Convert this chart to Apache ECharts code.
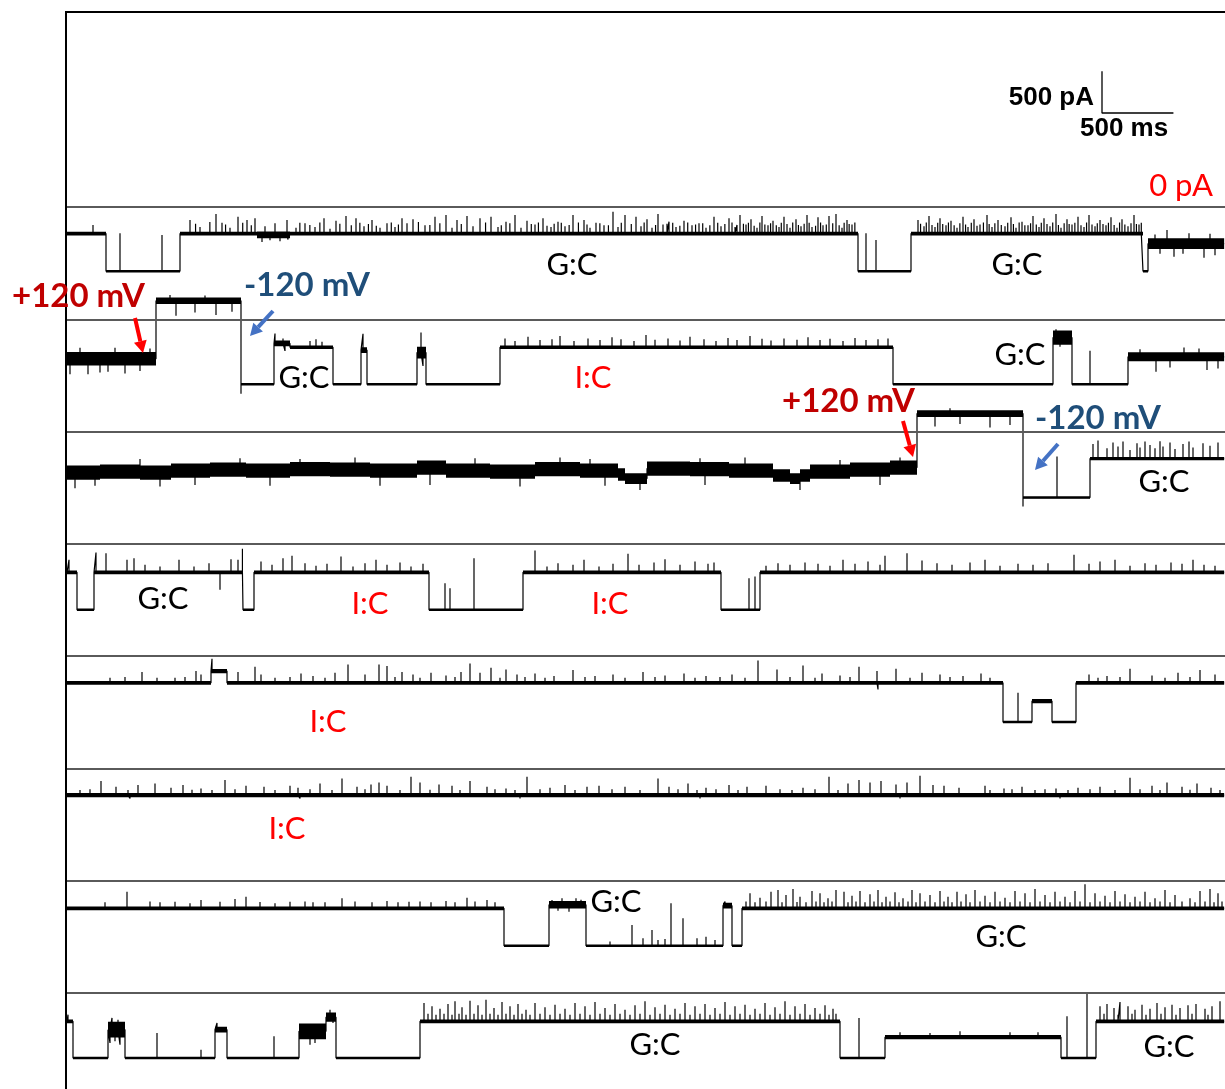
<!DOCTYPE html>
<html>
<head>
<meta charset="utf-8">
<script src="https://cdn.jsdelivr.net/npm/echarts@6/dist/echarts.min.js"></script>
<style>
html,body{margin:0;padding:0;background:#fff;}
#chart{width:1225px;height:1089px;}
</style>
</head>
<body>
<div id="chart"></div>
<script>
// Nanopore current traces, 8 consecutive rows.
// Time in ms from the start of each row, current in pA.
// Segments: [startMs, endMs, levelPA, noisePeakToPeakPA]
// Spikes:   [timeMs, peakPA]

const row1Segments = [
  [0, 273, -318, 45], [273, 791, -770, 30], [791, 1330, -318, 45], [1330, 1561, -335, 80],
  [1561, 5537, -318, 45], [5537, 5908, -770, 30], [5908, 7532, -318, 45], [7532, 7567, -770, 30],
  [7567, 8100, -440, 130]
];
const row1Spikes = [
  [182, -216], [371, -316], [665, -336],
  [861, -156], [900, -200], [931, -240], [1000, -180], [1043, -84], [1085, -188], [1110, -210], [1141, -250],
  [1197, -116], [1230, -190], [1260, -156], [1290, -220], [1316, -136],
  [1365, -420], [1386, -230], [1421, -400], [1456, -196], [1491, -410], [1540, -156], [1547, -390],
  [1603, -250], [1630, -190], [1666, -196], [1700, -215], [1736, -240], [1770, -185], [1799, -136],
  [1841, -260], [1883, -164], [1910, -200], [1953, -108], [1990, -220],
  [2023, -136], [2050, -190], [2079, -230], [2110, -205], [2135, -156], [2165, -225], [2191, -250],
  [2240, -196], [2270, -185], [2296, -240], [2320, -210], [2345, -136], [2380, -195],
  [2422, -148], [2460, -180], [2506, -220], [2540, -215], [2576, -116], [2610, -195], [2653, -96],
  [2695, -250], [2730, -156], [2760, -205], [2800, -108],
  [2842, -230], [2891, -136], [2930, -185], [2968, -116], [3017, -240], [3040, -220], [3073, -176],
  [3100, -195], [3136, -96], [3178, -250], [3220, -164], [3250, -205], [3276, -210], [3300, -185],
  [3332, -136], [3360, -225], [3388, -240], [3410, -200], [3437, -176], [3460, -190], [3486, -230],
  [3515, -215], [3542, -96], [3580, -185],
  [3619, -156], [3640, -210], [3661, -250], [3703, -188], [3730, -195], [3759, -220], [3790, -220],
  [3822, -56], [3857, -240], [3880, -190], [3906, -96], [3950, -205],
  [3983, -116], [4018, -230], [4040, -185], [4060, -148], [4095, -250], [4120, -215], [4137, -84],
  [4172, -210], [4200, -200], [4214, -176], [4240, -190],
  [4263, -240], [4290, -225], [4319, -164], [4345, -185], [4375, -220], [4400, -210], [4424, -196],
  [4450, -195], [4473, -250], [4500, -220], [4529, -116], [4555, -190], [4578, -230], [4605, -205],
  [4634, -136], [4655, -185], [4676, -240], [4690, -215], [4711, -96], [4735, -200], [4753, -210],
  [4770, -190], [4788, -148], [4810, -225], [4830, -250], [4850, -185], [4865, -108], [4885, -210],
  [4907, -220], [4925, -195], [4942, -164], [4965, -220], [4984, -240], [5000, -190], [5019, -116],
  [5040, -205], [5061, -250], [5080, -185], [5103, -148], [5120, -215], [5138, -230], [5160, -200],
  [5180, -96], [5195, -190], [5215, -240], [5240, -225], [5257, -124], [5275, -185], [5292, -220],
  [5315, -210], [5334, -108], [5360, -195], [5383, -84], [5405, -220], [5425, -250], [5440, -190],
  [5460, -156], [5475, -205], [5495, -210], [5515, -185],
  [5593, -316], [5663, -396],
  [5957, -156], [5975, -200], [5999, -230], [6015, -185], [6034, -108], [6055, -215], [6076, -240],
  [6095, -190], [6111, -136], [6130, -205], [6153, -220], [6170, -185], [6188, -164], [6210, -220],
  [6230, -250], [6250, -195], [6272, -116], [6290, -210], [6307, -240], [6330, -190], [6349, -148],
  [6370, -225], [6391, -210], [6415, -185], [6440, -96], [6455, -205], [6475, -240], [6495, -195],
  [6517, -156], [6540, -215], [6566, -230], [6585, -190], [6608, -124], [6625, -205], [6643, -250],
  [6665, -185], [6685, -176], [6705, -220], [6727, -220], [6745, -195], [6762, -108], [6785, -210],
  [6804, -240], [6820, -190], [6839, -136], [6860, -205], [6881, -230], [6900, -185], [6923, -84],
  [6940, -215], [6958, -250], [6980, -195], [7000, -148], [7015, -205], [7035, -210], [7055, -190],
  [7077, -116], [7098, -220], [7119, -240], [7137, -185], [7154, -96], [7175, -210], [7196, -230],
  [7212, -195], [7231, -156], [7252, -205], [7273, -220], [7290, -190], [7308, -124], [7330, -215],
  [7350, -250], [7368, -185], [7385, -148], [7405, -210], [7427, -230], [7448, -195], [7469, -96],
  [7486, -205], [7504, -210], [7520, -190],
  [7616, -330], [7651, -560], [7700, -276], [7749, -596], [7812, -560], [7854, -316], [7959, -610],
  [8001, -320], [8036, -580]
];

const row2Segments = [
  [0, 623, -474, 160], [623, 1218, 222, 80], [1218, 1449, -780, 30], [1449, 1561, -290, 70],
  [1561, 1862, -336, 40], [1862, 2058, -780, 30], [2058, 2100, -370, 70], [2100, 2450, -780, 30],
  [2450, 2513, -400, 140], [2513, 3031, -780, 30], [3031, 5782, -336, 40], [5782, 6902, -780, 30],
  [6902, 7035, -220, 170], [7035, 7427, -780, 30], [7427, 8100, -450, 110]
];
const row2Spikes = [
  [21, -660], [91, -342], [147, -660], [231, -640], [287, -630], [336, -342], [406, -650], [511, -620], [581, -350],
  [721, 290], [763, 42], [896, 80], [966, 285], [1043, 50], [1155, 90],
  [1218, -894],
  [1456, -170], [1512, -230], [1526, -380], [1701, -260], [1743, -240], [1785, -270],
  [2072, -175], [2478, -160], [2492, -560],
  [3066, -230], [3136, -260], [3227, -210], [3311, -250], [3395, -240], [3451, -200], [3549, -260],
  [3647, -230], [3731, -250], [3815, -215], [3878, -240], [3969, -260], [4053, -190], [4116, -245],
  [4207, -230], [4291, -255], [4361, -210], [4459, -240], [4543, -260], [4627, -225], [4690, -250],
  [4781, -200], [4865, -235], [4928, -255], [5019, -230], [5110, -245], [5187, -215], [5271, -250],
  [5341, -235], [5432, -260], [5516, -225], [5593, -250], [5677, -240], [5747, -230],
  [6923, -120], [6951, -330], [6993, -150],
  [7161, -378],
  [7511, -360], [7623, -630], [7721, -580], [7819, -338], [7924, -350], [7980, -610], [8057, -590]
];

const row3Segments = [
  [0, 231, -492, 170], [231, 511, -480, 170], [511, 728, -492, 170], [728, 1001, -468, 170],
  [1001, 1253, -456, 170], [1253, 1561, -468, 170], [1561, 1841, -450, 170], [1841, 2121, -456, 170],
  [2121, 2450, -468, 170], [2450, 2653, -432, 170], [2653, 2961, -468, 170], [2961, 3276, -480, 170],
  [3276, 3591, -450, 170], [3591, 3857, -468, 170], [3857, 3906, -516, 150], [3906, 4060, -564, 130],
  [4060, 4361, -444, 170], [4361, 4634, -450, 170], [4634, 4942, -468, 170], [4942, 5061, -528, 150],
  [5061, 5131, -564, 130], [5131, 5201, -528, 150], [5201, 5481, -480, 170], [5481, 5761, -456, 170],
  [5761, 5950, -432, 170], [5950, 6692, 216, 80], [6692, 7161, -792, 30], [7161, 8100, -324, 40]
];
const row3Spikes = [
  [56, -680], [196, -650], [511, -330], [651, -660], [896, -640], [1211, -320], [1421, -650],
  [1631, -330], [2016, -310], [2191, -650], [2541, -640], [2856, -320], [3171, -660], [3451, -310],
  [3661, -330], [3766, -650], [4011, -700], [4431, -320], [4466, -640], [4746, -310], [5131, -700],
  [5411, -340], [5691, -640], [5831, -310],
  [6076, 60], [6181, 280], [6251, 90], [6461, 50], [6601, 80],
  [6692, -900], [6930, -300],
  [7182, -150], [7217, -108], [7280, -200], [7322, -130], [7357, -180], [7392, -120], [7441, -220],
  [7490, -140], [7511, -190], [7546, -120], [7581, -160], [7616, -200], [7651, -115], [7672, -180],
  [7721, -130], [7756, -210], [7812, -150], [7854, -120], [7882, -190], [7952, -140], [8001, -170],
  [8057, -130]
];

const row4Segments = [
  [0, 70, -342, 45], [70, 189, -792, 30], [189, 1232, -342, 45], [1232, 1309, -792, 30],
  [1309, 2534, -342, 45], [2534, 3192, -792, 30], [3192, 4578, -342, 45], [4578, 4851, -792, 30],
  [4851, 8100, -342, 45]
];
const row4Spikes = [
  [14, -192], [203, -104], [273, -112], [420, -192], [469, -172], [546, -252], [651, -272], [784, -192],
  [889, -272], [994, -232], [1071, -552], [1148, -184], [1197, -192], [1228, -60],
  [1358, -212], [1435, -252], [1512, -172], [1575, -144], [1666, -232], [1743, -264], [1820, -240],
  [1918, -152], [2002, -272], [2086, -232], [2163, -192], [2240, -252], [2331, -224], [2408, -272],
  [2492, -240],
  [2646, -472], [2681, -532], [2849, -172],
  [3276, -80], [3360, -272], [3437, -232], [3542, -252], [3619, -192], [3724, -272], [3822, -240],
  [3927, -120], [4004, -252], [4109, -224], [4186, -184], [4291, -252], [4396, -212], [4487, -240],
  [4529, -224],
  [4774, -412], [4816, -392],
  [4893, -264], [4977, -232], [5061, -252], [5166, -224], [5257, -240], [5341, -264], [5432, -192],
  [5516, -240], [5607, -212], [5691, -252], [5726, -144], [5880, -112], [5985, -200], [6090, -232],
  [6195, -252], [6321, -224], [6426, -192], [6531, -264], [6657, -240], [6762, -252], [6867, -232],
  [7049, -132], [7154, -240], [7231, -212], [7336, -192], [7441, -264], [7546, -232], [7623, -252],
  [7728, -224], [7805, -240], [7882, -192], [7959, -252], [8036, -264]
];

const row5Segments = [
  [0, 1008, -320, 45], [1008, 1120, -180, 50], [1120, 6552, -320, 45], [6552, 6755, -792, 30],
  [6755, 6895, -540, 50], [6895, 7063, -792, 30], [7063, 8100, -320, 45]
];
const row5Spikes = [
  [301, -260], [406, -250], [525, -192], [630, -260], [756, -260], [826, -250], [903, -180], [938, -220],
  [1015, -32],
  [1197, -192], [1316, -128], [1358, -220], [1456, -260], [1561, -250], [1638, -208], [1722, -240],
  [1806, -260], [1876, -200], [1967, -100], [2086, -220], [2184, -100], [2240, -120], [2296, -250],
  [2345, -192], [2422, -220], [2471, -260], [2548, -200], [2653, -232], [2716, -250], [2758, -192],
  [2821, -88], [2891, -200], [2968, -140], [3031, -260], [3073, -160], [3150, -220], [3206, -250],
  [3276, -208], [3346, -260], [3409, -240], [3542, -168], [3626, -250], [3696, -240], [3822, -220],
  [3906, -260], [4032, -192], [4116, -250], [4186, -232], [4319, -208], [4396, -260], [4473, -240],
  [4571, -250], [4655, -220], [4746, -260], [4837, -52], [4970, -160], [5061, -250], [5152, -112],
  [5236, -260], [5285, -208], [5411, -232], [5481, -250], [5544, -128], [5670, -180], [5677, -400],
  [5803, -152], [5901, -260], [5985, -200], [6111, -220], [6181, -250], [6272, -240], [6398, -208],
  [6461, -260],
  [6657, -440],
  [7154, -220], [7217, -260], [7280, -240], [7371, -250], [7441, -152], [7595, -232], [7686, -260],
  [7777, -200], [7861, -250], [7931, -168], [8036, -220]
];

const row6Segments = [
  [0, 8100, -320, 50]
];
const row6Spikes = [
  [91, -260], [161, -250], [238, -152], [343, -220], [427, -260], [441, -360], [497, -200], [616, -180],
  [728, -232], [812, -200], [875, -255], [938, -240], [1015, -260], [1106, -140], [1176, -250],
  [1253, -208], [1379, -220], [1456, -260], [1561, -208], [1617, -232], [1631, -360], [1701, -250],
  [1771, -180], [1855, -260], [1925, -120], [2030, -220], [2086, -250], [2128, -192], [2184, -168],
  [2240, -208], [2331, -260], [2408, -100], [2471, -168], [2541, -255], [2604, -192], [2695, -208],
  [2751, -260], [2821, -152], [2940, -220], [2996, -250], [3073, -240], [3136, -260], [3171, -360],
  [3220, -100], [3311, -250], [3381, -232], [3486, -200], [3556, -260], [3640, -220], [3724, -208],
  [3815, -250], [3906, -220], [4011, -260], [4137, -120], [4214, -220], [4277, -250], [4347, -180],
  [4410, -260], [4431, -360], [4473, -232], [4543, -250], [4634, -200], [4697, -260], [4760, -220],
  [4893, -208], [4991, -250], [5075, -260], [5152, -232], [5236, -250], [5334, -100], [5397, -260],
  [5467, -180], [5544, -140], [5621, -168], [5698, -152], [5803, -192], [5831, -360], [5880, -168],
  [5971, -88], [6062, -200], [6139, -208], [6244, -232], [6426, -208], [6461, -260], [6559, -240],
  [6615, -250], [6685, -220], [6776, -260], [6846, -250], [6923, -240], [6951, -360], [7007, -260],
  [7077, -232], [7161, -250], [7231, -220], [7336, -260], [7441, -112], [7511, -250], [7595, -208],
  [7651, -260], [7700, -168], [7805, -220], [7861, -255], [7910, -180], [8008, -232], [8071, -260]
];

const row7Segments = [
  [0, 3059, -332, 45], [3059, 3374, -780, 30], [3374, 3633, -290, 90], [3633, 4592, -780, 30],
  [4592, 4655, -300, 70], [4655, 4725, -780, 30], [4725, 8100, -332, 45]
];
const row7Spikes = [
  [266, -260], [420, -132], [581, -250], [651, -260], [756, -252], [861, -272], [938, -232], [1071, -252],
  [1176, -220], [1253, -192], [1351, -255], [1456, -272], [1561, -252], [1666, -250], [1722, -260],
  [1806, -260], [1925, -212], [2016, -250], [2135, -260], [2240, -244], [2317, -260], [2394, -252],
  [2471, -250], [2548, -260], [2653, -244], [2716, -260], [2800, -204], [2856, -250], [2940, -232],
  [2996, -260],
  [3395, -232], [3437, -360], [3465, -212], [3514, -372], [3563, -212], [3598, -230],
  [3801, -730], [3955, -532], [4032, -692], [4095, -592], [4137, -712], [4186, -700], [4228, -272],
  [4312, -452], [4410, -692], [4473, -672], [4536, -712],
  [4606, -250],
  [4753, -250], [4781, -152], [4816, -260], [4851, -204], [4893, -250], [4928, -132], [4977, -112],
  [5005, -260], [5033, -172], [5082, -100], [5110, -255], [5131, -192], [5173, -260], [5215, -124],
  [5243, -250], [5271, -152], [5299, -260], [5327, -212], [5355, -250], [5383, -112], [5439, -132],
  [5467, -260], [5495, -180], [5523, -250], [5551, -124], [5586, -260], [5621, -164], [5649, -250],
  [5677, -112], [5705, -260], [5733, -192], [5761, -250], [5796, -140], [5824, -260], [5852, -212],
  [5887, -250], [5915, -112], [5943, -260], [5971, -152], [6006, -250], [6041, -172], [6076, -260],
  [6111, -124], [6139, -250], [6167, -192], [6195, -260], [6230, -132], [6258, -250], [6293, -164],
  [6321, -260], [6356, -112], [6391, -250], [6426, -180], [6461, -260], [6496, -132], [6531, -250],
  [6566, -204], [6601, -260], [6636, -124], [6671, -250], [6706, -152], [6741, -260], [6776, -100],
  [6811, -250], [6846, -172], [6881, -260], [6916, -132], [6951, -250], [6986, -192], [7021, -260],
  [7056, -124], [7091, -250], [7126, -44], [7161, -260], [7196, -152], [7231, -250], [7266, -180],
  [7301, -260], [7336, -124], [7371, -250], [7406, -164], [7441, -260], [7476, -192], [7511, -250],
  [7546, -132], [7581, -260], [7616, -212], [7651, -250], [7686, -112], [7721, -260], [7756, -172],
  [7805, -250], [7861, -212], [7896, -260], [7931, -124], [7966, -250], [8001, -100], [8029, -260],
  [8057, -152], [8085, -250]
];

const row8Segments = [
  [0, 42, -340, 45], [42, 287, -780, 30], [287, 406, -440, 190], [406, 1036, -780, 30],
  [1036, 1120, -440, 70], [1120, 1624, -780, 30], [1624, 1813, -460, 190], [1813, 1883, -290, 110],
  [1883, 2471, -780, 30], [2471, 5411, -340, 45], [5411, 5726, -780, 30], [5726, 6958, -530, 50],
  [6958, 7203, -780, 30], [7203, 8100, -340, 45]
];
const row8Spikes = [
  [7, -260],
  [301, -600], [315, -300], [336, -580], [357, -320], [371, -620],
  [630, -480], [938, -680], [1050, -360], [1449, -520],
  [1645, -400], [1666, -380], [1701, -620], [1736, -600], [1771, -380], [1841, -200], [1862, -360],
  [2499, -120], [2527, -250], [2555, -160], [2583, -260], [2611, -188], [2639, -250], [2667, -132],
  [2695, -260], [2716, -100], [2744, -250], [2765, -172], [2793, -260], [2821, -92], [2849, -250],
  [2877, -148], [2905, -260], [2933, -80], [2961, -250], [2989, -180], [3017, -260], [3045, -108],
  [3073, -250], [3101, -160], [3129, -260], [3157, -132], [3185, -250], [3213, -200], [3241, -260],
  [3276, -120], [3311, -250], [3346, -172], [3381, -260], [3416, -140], [3451, -250], [3486, -188],
  [3521, -260], [3556, -120], [3591, -250], [3626, -160], [3661, -260], [3696, -108], [3731, -250],
  [3766, -180], [3801, -260], [3836, -132], [3871, -250], [3906, -200], [3941, -260], [3976, -148],
  [4011, -250], [4046, -100], [4081, -260], [4116, -172], [4151, -250], [4186, -140], [4221, -260],
  [4256, -188], [4291, -250], [4326, -120], [4361, -260], [4396, -160], [4431, -250], [4466, -132],
  [4501, -260], [4536, -180], [4571, -250], [4606, -108], [4641, -260], [4676, -160], [4711, -250],
  [4746, -140], [4781, -260], [4816, -188], [4851, -250], [4886, -120], [4921, -260], [4956, -172],
  [4991, -250], [5026, -100], [5061, -260], [5096, -160], [5131, -250], [5166, -132], [5201, -260],
  [5236, -180], [5271, -250], [5306, -148], [5334, -260], [5362, -188], [5383, -250],
  [5544, -300],
  [5831, -470], [6041, -480], [6251, -460], [6601, -470], [6797, -470],
  [7000, -280], [7140, 0],
  [7231, -160], [7259, -250], [7280, -132], [7329, -180], [7357, -260], [7371, -108], [7427, -160],
  [7455, -250], [7476, -200], [7525, -140], [7553, -260], [7581, -188], [7630, -120], [7658, -250],
  [7686, -172], [7735, -140], [7763, -260], [7791, -180], [7847, -148], [7875, -250], [7903, -132],
  [7966, -188], [7987, -260], [8015, -160], [8071, -100]
];

// Scale bar lengths: [ms, pA]
const scaleBarSize = [500, 500];
const scaleBarLabels = ['500 pA', '500 ms'];

const rows = [
  [row1Segments, row1Spikes], [row2Segments, row2Spikes], [row3Segments, row3Spikes],
  [row4Segments, row4Spikes], [row5Segments, row5Spikes], [row6Segments, row6Spikes],
  [row7Segments, row7Spikes], [row8Segments, row8Spikes]
];

// ---- layout ----
const MS_PER_PX = 7, PA_PER_PX = 12;
const T_MAX = 8106, Y_MIN = -1000, Y_MAX = 400;
const PLOT_LEFT = 67;
const FIRST_ZERO_Y = 207, ROW_STEP = 112.28;
const plotWidth = T_MAX / MS_PER_PX;
const rowHeight = (Y_MAX - Y_MIN) / PA_PER_PX;

// Trace polyline: flat levels, vertical steps between levels, spikes as vertical strokes
function tracePoints(segs, spikes) {
  const sorted = spikes.slice().sort((a, b) => a[0] - b[0]);
  const pts = [];
  segs.forEach(([t0, t1, lvl]) => {
    pts.push([t0, lvl]);
    sorted.forEach(([ts, pk]) => {
      if (ts >= t0 && ts < t1) { pts.push([ts, lvl], [ts, pk], [ts, lvl]); }
    });
    pts.push([t1, lvl]);
  });
  return pts;
}

const grids = [], xAxes = [], yAxes = [], series = [];

rows.forEach(([segs, spikes], i) => {
  const zeroY = FIRST_ZERO_Y + ROW_STEP * i;
  grids.push({ left: PLOT_LEFT, top: zeroY - Y_MAX / PA_PER_PX, width: plotWidth, height: rowHeight });
  xAxes.push({ gridIndex: i, type: 'value', min: 0, max: T_MAX, show: false });
  yAxes.push({ gridIndex: i, type: 'value', min: Y_MIN, max: Y_MAX, show: false });
  // noise envelope of each level
  series.push({
    type: 'custom', xAxisIndex: i, yAxisIndex: i, silent: true, animation: false, clip: true,
    data: segs,
    encode: { x: [0, 1], y: 2 },
    renderItem: (params, api) => {
      const half = api.value(3) / 2;
      const a = api.coord([api.value(0), api.value(2) + half]);
      const b = api.coord([api.value(1), api.value(2) - half]);
      return { type: 'rect', shape: { x: a[0], y: a[1], width: b[0] - a[0], height: Math.max(1, b[1] - a[1]) },
               style: { fill: '#000' } };
    },
    z: 3
  });
  series.push({
    type: 'line', xAxisIndex: i, yAxisIndex: i, data: tracePoints(segs, spikes),
    showSymbol: false, silent: true, animation: false, sampling: null,
    lineStyle: { color: '#000', width: 1.2 },
    markLine: {
      silent: true, symbol: 'none', animation: false, label: { show: false },
      lineStyle: { color: '#5a5a5a', width: 2, type: 'solid' },
      data: [{ yAxis: 0 }]
    },
    z: 4
  });
});

// scale bar panel
const sbIdx = rows.length;
const SB_TOP = 60, SB_MAX = 700;
grids.push({ left: PLOT_LEFT, top: SB_TOP, width: plotWidth, height: SB_MAX / PA_PER_PX });
xAxes.push({ gridIndex: sbIdx, type: 'value', min: 0, max: T_MAX, show: false });
yAxes.push({ gridIndex: sbIdx, type: 'value', min: 0, max: SB_MAX, show: false });
const sbCorner = [7245, 64];
series.push({
  type: 'line', xAxisIndex: sbIdx, yAxisIndex: sbIdx, showSymbol: false, silent: true, animation: false,
  lineStyle: { color: '#000', width: 1.3 },
  data: [[sbCorner[0], sbCorner[1] + scaleBarSize[1]], sbCorner, [sbCorner[0] + scaleBarSize[0], sbCorner[1]]]
});

// ---- annotations ----
const FONT_LABEL = '31px Lato';
const notes = [
  ['G:C', 572, 265, '#000'], ['G:C', 1017, 265, '#000'], ['G:C', 1020, 355, '#000'], ['G:C', 304, 378, '#000'],
  ['I:C', 593, 378, '#ff0000'], ['G:C', 1164, 482, '#000'], ['G:C', 163, 599, '#000'], ['I:C', 370, 604, '#ff0000'],
  ['I:C', 610, 604, '#ff0000'], ['I:C', 328, 722, '#ff0000'], ['I:C', 287, 829, '#ff0000'], ['G:C', 616, 902, '#000'],
  ['G:C', 1001, 937, '#000'], ['G:C', 655, 1045, '#000'], ['G:C', 1169, 1047, '#000']
];

function txt(text, x, y, color, font, align) {
  return { type: 'text', x: x, y: y, z: 20, silent: true,
    style: { text: text, fill: color, font: font, align: align, verticalAlign: 'middle',
             textAlign: align, textVerticalAlign: 'middle' } };
}

function arrow(x1, y1, x2, y2, color, w) {
  const dx = x2 - x1, dy = y2 - y1, len = Math.hypot(dx, dy);
  const ux = dx / len, uy = dy / len, head = 12, hw = 6.5;
  const bx = x2 - ux * head, by = y2 - uy * head;
  return [
    { type: 'line', z: 20, silent: true, shape: { x1: x1, y1: y1, x2: bx, y2: by },
      style: { stroke: color, lineWidth: w } },
    { type: 'polygon', z: 20, silent: true,
      shape: { points: [[x2, y2], [bx - uy * hw, by + ux * hw], [bx + uy * hw, by - ux * hw]] },
      style: { fill: color } }
  ];
}

const graphics = [
  // frame
  { type: 'polyline', z: 15, silent: true, shape: { points: [[66, 1089], [66, 12], [1225, 12]] },
    style: { stroke: '#000', lineWidth: 2, fill: null } },
  txt(scaleBarLabels[0], 1094, 98, '#000', 'bold 26px "Liberation Sans"', 'right'),
  txt(scaleBarLabels[1], 1080, 129, '#000', 'bold 26px "Liberation Sans"', 'left'),
  txt('0 pA', 1213, 186, '#ff0000', '31px Lato', 'right'),
  txt('+120 mV', 12, 296, '#c00000', 'bold 33px Lato', 'left'),
  txt('-120 mV', 244, 285, '#1f4e79', 'bold 33px Lato', 'left'),
  txt('+120 mV', 782, 401, '#c00000', 'bold 33px Lato', 'left'),
  txt('-120 mV', 1035, 418, '#1f4e79', 'bold 33px Lato', 'left'),
  ...arrow(135, 318, 143, 353, '#ff0000', 4),
  ...arrow(903, 421, 913, 457, '#ff0000', 4),
  ...arrow(273, 311, 250, 336, '#4472c4', 4),
  ...arrow(1058, 444, 1035, 470, '#4472c4', 4),
  ...notes.map(([t, x, y, c]) => txt(t, x, y, c, FONT_LABEL, 'center'))
];

const chart = echarts.init(document.getElementById('chart'), null, { renderer: 'canvas' });
chart.setOption({
  backgroundColor: '#fff',
  animation: false,
  grid: grids, xAxis: xAxes, yAxis: yAxes,
  series: series,
  graphic: graphics
});
</script>
</body>
</html>
